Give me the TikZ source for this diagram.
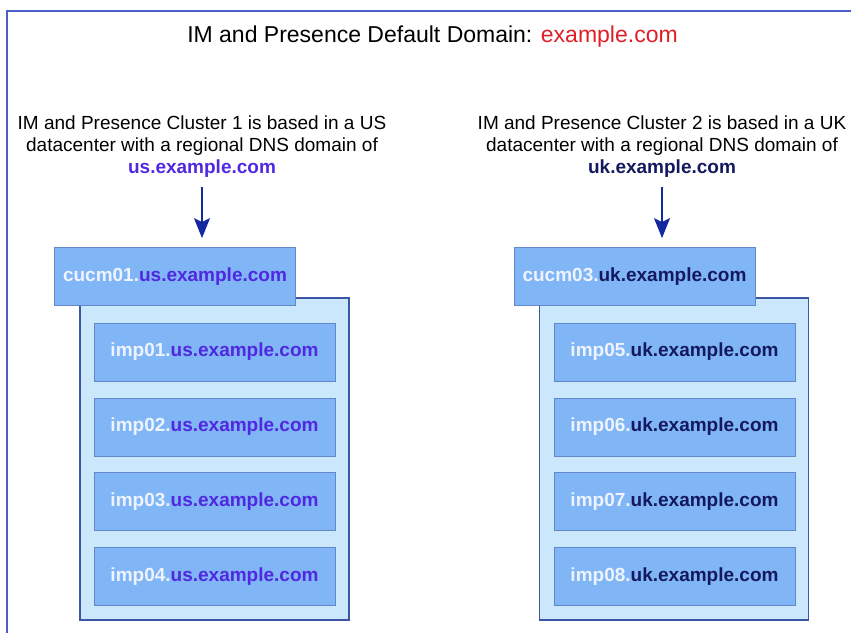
\documentclass[tikz,border=0pt]{standalone}
\usepackage{fontspec}
\setmainfont{Liberation Sans}
\usetikzlibrary{arrows.meta}

\definecolor{frameblue}{RGB}{75,95,200}
\definecolor{clusterfill}{RGB}{202,231,252}
\definecolor{clusterline}{RGB}{60,85,165}
\definecolor{hostfill}{RGB}{128,182,245}
\definecolor{hostline}{RGB}{100,135,200}
\definecolor{hostname}{RGB}{238,243,255}
\definecolor{usblue}{RGB}{80,40,225}
\definecolor{uknavy}{RGB}{20,25,95}
\definecolor{domred}{RGB}{225,30,40}
\definecolor{arrowblue}{RGB}{20,40,160}

\tikzset{
	cluster/.style={draw=clusterline, line width=1.8pt, fill=clusterfill,
		minimum width=269pt, minimum height=322pt, inner sep=0pt},
	host/.style={draw=hostline, line width=.8pt, fill=hostfill,
		minimum width=241pt, minimum height=58pt, inner sep=0pt,
		font=\fontsize{19}{22}\selectfont\bfseries},
	caption/.style={align=center, inner sep=0pt, font=\fontsize{19}{22}\selectfont},
	pointer/.style={draw=arrowblue, line width=1.5pt,
		-{Stealth[length=20pt, width=16pt, inset=4pt]},
		shorten <=9pt, shorten >=9pt}
}

\begin{document}
\begin{tikzpicture}[x=1pt, y=-1pt]
		\useasboundingbox (0,0) rectangle (851,632);
		\draw[frameblue, line width=2.5pt] (7,633) -- (7,11) -- (852,11);

		\node[anchor=base, inner sep=0pt, font=\fontsize{23}{26}\selectfont] (title) at(432.5, 42)
			{IM and Presence Default Domain: \textcolor{domred}{example.com}};

		\node[caption, anchor=north] (desc-us) at(202, 116)
			{IM and Presence Cluster 1 is based in a US\\
			datacenter with a regional DNS domain of\\
			\textbf{\textcolor{usblue}{us.example.com}}};
		\node[caption, anchor=north] (desc-uk) at(662, 116)
			{IM and Presence Cluster 2 is based in a UK\\
			datacenter with a regional DNS domain of\\
			\textbf{\textcolor{uknavy}{uk.example.com}}};

		\node[cluster] (cluster-us) at(214.5, 459){};
			\node[host] (cucm01) at(175, 276.5){\textcolor{hostname}{cucm01.}\textcolor{usblue}{us.example.com}};
			\node[host] (imp01) at(214.5, 352){\textcolor{hostname}{imp01.}\textcolor{usblue}{us.example.com}};
			\node[host] (imp02) at(214.5, 427){\textcolor{hostname}{imp02.}\textcolor{usblue}{us.example.com}};
			\node[host] (imp03) at(214.5, 501.5){\textcolor{hostname}{imp03.}\textcolor{usblue}{us.example.com}};
			\node[host] (imp04) at(214.5, 576.5){\textcolor{hostname}{imp04.}\textcolor{usblue}{us.example.com}};

		\node[cluster] (cluster-uk) at(674, 459){};
			\node[host] (cucm03) at(634.5, 276.5){\textcolor{hostname}{cucm03.}\textcolor{uknavy}{uk.example.com}};
			\node[host] (imp05) at(674.5, 352){\textcolor{hostname}{imp05.}\textcolor{uknavy}{uk.example.com}};
			\node[host] (imp06) at(674.5, 427){\textcolor{hostname}{imp06.}\textcolor{uknavy}{uk.example.com}};
			\node[host] (imp07) at(674.5, 501.5){\textcolor{hostname}{imp07.}\textcolor{uknavy}{uk.example.com}};
			\node[host] (imp08) at(674.5, 576.5){\textcolor{hostname}{imp08.}\textcolor{uknavy}{uk.example.com}};

		\draw[pointer] (desc-us.south) -- (desc-us.south |- cucm01.north);
		\draw[pointer] (desc-uk.south) -- (desc-uk.south |- cucm03.north);
	\end{tikzpicture}
\end{document}
